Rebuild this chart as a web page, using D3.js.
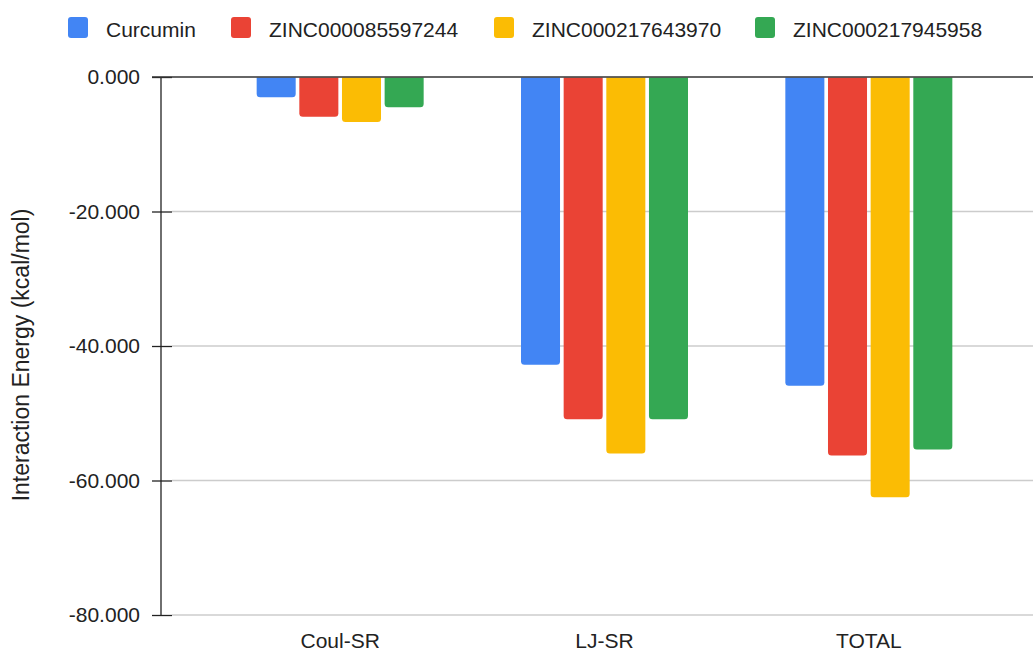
<!DOCTYPE html>
<html>
<head>
<meta charset="utf-8">
<script src="https://cdn.jsdelivr.net/npm/d3@7"></script>
<style>
  html, body { margin: 0; padding: 0; background: #fff; }
  svg { display: block; font-family: "Liberation Sans", Arial, sans-serif; }
</style>
</head>
<body>
<svg id="chart" width="1033" height="651"></svg>
<script>
// Interaction energy components per ligand (kcal/mol)
const categories = ["Coul-SR", "LJ-SR", "TOTAL"];
const seriesNames = ["Curcumin", "ZINC000085597244", "ZINC000217643970", "ZINC000217945958"];
const curcumin = [-3.0, -42.8, -45.9];
const zinc85597244 = [-5.9, -50.9, -56.3];
const zinc217643970 = [-6.7, -56.0, -62.5];
const zinc217945958 = [-4.5, -50.9, -55.4];
const yTicks = [0, -20, -40, -60, -80];
const colors = ["#4285F4", "#EA4335", "#FBBC04", "#34A853"];

const seriesValues = [curcumin, zinc85597244, zinc217643970, zinc217945958];
const rows = categories.map((c, i) => ({
  category: c,
  values: seriesNames.map((s, j) => ({ series: s, value: seriesValues[j][i], color: colors[j] }))
}));

const svg = d3.select("#chart");
const textColor = "#222";
const fontSize = 21;

const y = d3.scaleLinear().domain([-80, 0]).range([615, 77]);
const x0 = d3.scaleBand().domain(categories).range([208, 1001]).padding(0);
const groupWidth = 167;
const x1 = d3.scaleBand().domain(seriesNames).range([-groupWidth / 2, groupWidth / 2]).paddingInner(0.085).paddingOuter(0);

// Tick labels with three decimals and a plain hyphen for negatives
const fmt3 = d3.format(".3f");
const tickFormat = d => fmt3(d).replace("\u2212", "-");

// Gridlines
svg.append("g")
  .selectAll("line")
  .data(yTicks.filter(t => t !== 0))
  .join("line")
  .attr("x1", 172).attr("x2", 1033)
  .attr("y1", d => y(d)).attr("y2", d => y(d))
  .attr("stroke", "#cccccc").attr("stroke-width", 1.3);

// Y axis ticks and labels
const yAxis = svg.append("g")
  .attr("transform", "translate(172,0)")
  .call(d3.axisLeft(y).tickValues(yTicks).tickSize(20).tickPadding(12).tickFormat(tickFormat));
yAxis.select(".domain").remove();
yAxis.selectAll(".tick line").attr("stroke", "#222").attr("stroke-width", 1.3);
yAxis.selectAll(".tick text").attr("fill", textColor).style("font-size", fontSize + "px")
  .style("font-family", "'Liberation Sans', Arial, sans-serif");

// Bars: flat top at zero, rounded bottom corners
function barPath(x, w, y0, y1, r) {
  const h = y1 - y0;
  const rr = Math.min(r, h / 2, w / 2);
  return `M${x},${y0} H${x + w} V${y1 - rr} Q${x + w},${y1} ${x + w - rr},${y1} H${x + rr} Q${x},${y1} ${x},${y1 - rr} Z`;
}

svg.append("g")
  .selectAll("g")
  .data(rows)
  .join("g")
  .attr("transform", d => `translate(${x0(d.category) + x0.bandwidth() / 2},0)`)
  .selectAll("path")
  .data(d => d.values)
  .join("path")
  .attr("d", d => barPath(x1(d.series), x1.bandwidth(), y(0) + 0.5, y(d.value), 3.5))
  .attr("fill", d => d.color);

// Vertical axis line
svg.append("line")
  .attr("x1", 161).attr("x2", 161)
  .attr("y1", y(0)).attr("y2", y(-80))
  .attr("stroke", "#222").attr("stroke-width", 1.3);

// Zero baseline
svg.append("line")
  .attr("x1", 152).attr("x2", 1033)
  .attr("y1", y(0)).attr("y2", y(0))
  .attr("stroke", "#333").attr("stroke-width", 1.6);

// X axis labels
const xAxis = svg.append("g")
  .attr("transform", `translate(0,${y(-80)})`)
  .call(d3.axisBottom(x0).tickSize(0).tickPadding(18));
xAxis.select(".domain").remove();
xAxis.selectAll(".tick text").attr("fill", textColor).style("font-size", fontSize + "px")
  .style("font-family", "'Liberation Sans', Arial, sans-serif");

// Y axis title
svg.append("text")
  .attr("transform", "translate(29,355) rotate(-90)")
  .attr("text-anchor", "middle")
  .attr("fill", textColor)
  .style("font-size", "23px")
  .text("Interaction Energy (kcal/mol)");

// Legend
const legendX = [68, 231, 494, 755];
const legend = svg.append("g")
  .selectAll("g")
  .data(seriesNames)
  .join("g")
  .attr("transform", (d, i) => `translate(${legendX[i]},17)`);
legend.append("rect")
  .attr("width", 20).attr("height", 21).attr("rx", 3)
  .attr("fill", (d, i) => colors[i]);
legend.append("text")
  .attr("x", 38).attr("y", 19.5)
  .attr("fill", textColor)
  .style("font-size", fontSize + "px")
  .text(d => d);
</script>
</body>
</html>
